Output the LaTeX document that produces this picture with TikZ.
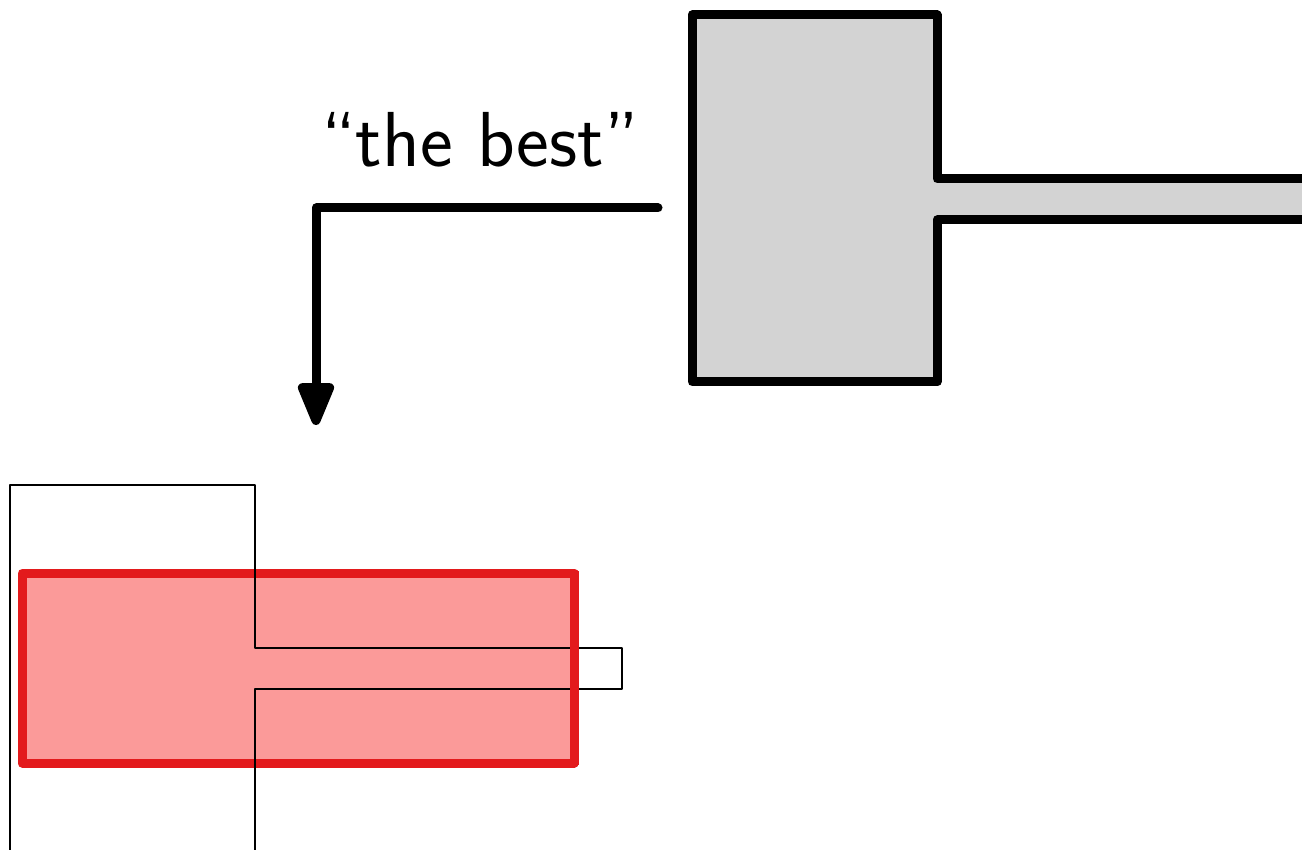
\documentclass[tikz,border=0pt]{standalone}
\usepackage{fontspec}
\usetikzlibrary{arrows.meta}

\definecolor{shapegray}{HTML}{D3D3D3}
\definecolor{hitfill}{HTML}{FB9A99}
\definecolor{hitedge}{HTML}{E31A1C}

\tikzset{
  thickline/.style={line width=4.5pt, line join=round, line cap=round},
  thinline/.style={line width=1.35pt, line join=round},
  template/.style={thickline, draw=black, fill=shapegray},
  region/.style={line width=4.5pt, line join=round, draw=hitedge, fill=hitfill},
  pointer/.style={thickline, -{Triangle[length=25pt,width=19pt,round]}},
  caption/.style={font=\sffamily\fontsize{39}{47}\selectfont, anchor=base, inner sep=0pt}
}

\begin{document}
\begin{tikzpicture}[x=0.5pt, y=-0.5pt]
  \useasboundingbox (0,0) rectangle (1302,850);
  \clip (0,0) rectangle (1302,850);

  % grey template: square head with a stem running off to the right
  \draw[template] (1330,179) -- (937,179) -- (937,15) -- (692,15) -- (692,382)
        -- (937,382) -- (937,220) -- (1330,220);

  % label and pointer
  \node[caption] (label) at (480,167) {“the best”};
  \coordinate (arrowstart) at (658,208);
  \coordinate (arrowtip) at (316,425);
  \draw[pointer] (arrowstart) -| (arrowtip);

  % matched region
  \draw[region] (22,573) rectangle (574,763);

  % thin outline of the template underneath
  \draw[thinline] (10,870) -- (10,485) -- (255,485) -- (255,648) -- (622,648)
        -- (622,689) -- (255,689) -- (255,870);

  % right edge of the region lies on top of the stem
  \draw[line width=4.5pt, draw=hitedge] (574,571) -- (574,765);
\end{tikzpicture}
\end{document}
